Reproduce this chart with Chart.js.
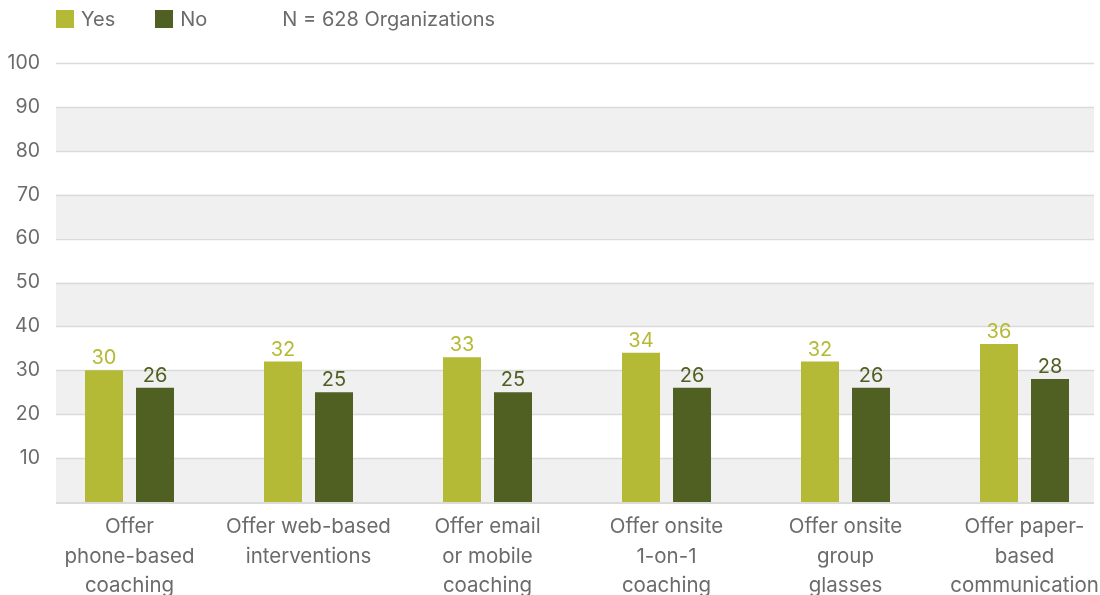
<!DOCTYPE html>
<html>
<head>
<meta charset="utf-8">
<script src="https://cdn.jsdelivr.net/npm/chart.js@4"></script>
<style>
  html, body { margin: 0; padding: 0; background: #fff; overflow: hidden; }
  #wrap { position: absolute; left: 0; top: 0; width: 1120px; height: 595px; }
  #leyenda { position: absolute; left: 56px; top: 7px; font-family: Inter, sans-serif; font-size: 20px; color: #6b6b6b; display: flex; align-items: center; z-index: 2; }
  .cuadro { display: inline-block; width: 18px; height: 18px; margin-right: 7px; }
  .item { display: flex; align-items: center; margin-right: 40px; }
</style>
</head>
<body>
<div id="leyenda">
  <span class="item"><span class="cuadro" style="background:#b4b936"></span>Yes</span>
  <span class="item" style="margin-right:75px"><span class="cuadro" style="background:#505f22"></span>No</span>
  <span>N = 628 Organizations</span>
</div>
<div id="wrap"><canvas id="grafica" width="1120" height="595"></canvas></div>
<script>
const categorias = [
    ['Offer', 'phone-based', 'coaching'],
    ['Offer web-based', 'interventions'],
    ['Offer email', 'or mobile', 'coaching'],
    ['Offer onsite', '1-on-1', 'coaching'],
    ['Offer onsite', 'group', 'glasses'],
    ['Offer paper-', 'based', 'communication']
];
const votosSi = [30, 32, 33, 34, 32, 36];
const votosNo = [26, 25, 25, 26, 26, 28];
const ticksY = [10, 20, 30, 40, 50, 60, 70, 80, 90, 100];

const colorSi = '#b4b936';
const colorNo = '#505f22';
const gris = '#6b6b6b';

// bandas grises y lineas horizontales
const fondoBandas = {
    id: 'fondoBandas',
    beforeDatasetsDraw(chart) {
        const ctx = chart.ctx;
        const y = chart.scales.y;
        const x0 = 56, x1 = 1094;
        ctx.save();
        ctx.fillStyle = '#f0f0f0';
        for (let v = 0; v < 100; v += 20) {
            const top = y.getPixelForValue(v + 10);
            const bot = y.getPixelForValue(v);
            ctx.fillRect(x0, top, x1 - x0, bot - top);
        }
        ctx.strokeStyle = '#dadada';
        ctx.lineWidth = 1.5;
        ticksY.forEach(v => {
            const py = Math.round(y.getPixelForValue(v)) + 0.5;
            ctx.beginPath();
            ctx.moveTo(x0, py);
            ctx.lineTo(x1, py);
            ctx.stroke();
        });
        ctx.lineWidth = 2;
        const p0 = Math.round(y.getPixelForValue(0)) + 1;
        ctx.beginPath();
        ctx.moveTo(x0, p0);
        ctx.lineTo(x1, p0);
        ctx.stroke();
        ctx.restore();
    }
};

// valores encima de las barras
const etiquetasValor = {
    id: 'etiquetasValor',
    afterDatasetsDraw(chart) {
        const ctx = chart.ctx;
        ctx.save();
        ctx.font = '20px Inter, sans-serif';
        ctx.textAlign = 'center';
        ctx.textBaseline = 'bottom';
        chart.data.datasets.forEach((ds, i) => {
            const meta = chart.getDatasetMeta(i);
            ctx.fillStyle = ds.backgroundColor;
            meta.data.forEach((bar, j) => {
                ctx.fillText(ds.data[j], bar.x, bar.y - 2);
            });
        });
        ctx.restore();
    }
};

const ctx = document.getElementById('grafica').getContext('2d');
const grafica = new Chart(ctx, {
    type: 'bar',
    data: {
        labels: categorias,
        datasets: [
            { label: 'Yes', data: votosSi, backgroundColor: colorSi },
            { label: 'No', data: votosNo, backgroundColor: colorNo }
        ]
    },
    options: {
        responsive: false,
        animation: false,
        maintainAspectRatio: false,
        categoryPercentage: 0.57,
        barPercentage: 0.745,
        layout: { padding: { top: 63, right: 6, left: 0, bottom: 0 } },
        scales: {
            x: {
                grid: { display: false },
                border: { display: false },
                ticks: {
                    color: gris,
                    font: { family: 'Inter, sans-serif', size: 20.5, lineHeight: 1.45 },
                    padding: 2,
                    maxRotation: 0,
                    autoSkip: false
                },
                afterFit(scale) { scale.height = 93; }
            },
            y: {
                min: 0,
                max: 100,
                grid: { display: false, drawTicks: false },
                border: { display: false },
                ticks: {
                    stepSize: 10,
                    padding: 0,
                    color: gris,
                    font: { family: 'Inter, sans-serif', size: 19.5 },
                    callback: v => (ticksY.includes(v) ? v : '')
                },
                afterFit(scale) { scale.width = 40; }
            }
        },
        plugins: {
            legend: { display: false },
            tooltip: { enabled: false }
        }
    },
    plugins: [fondoBandas, etiquetasValor]
});
</script>
</body>
</html>
